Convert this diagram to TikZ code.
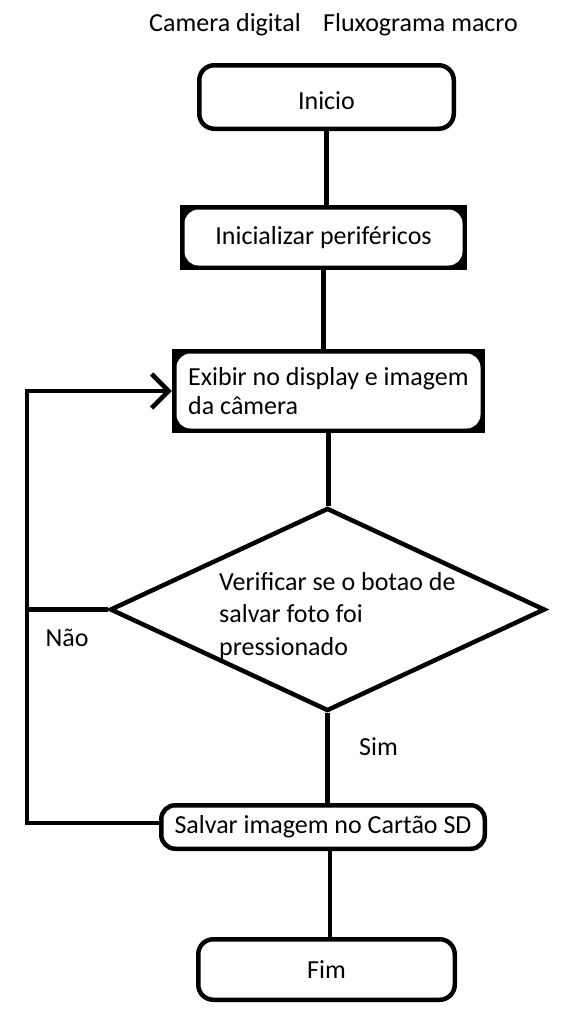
\documentclass[tikz,border=0pt]{standalone}
\usepackage{fontspec}
\setmainfont{Carlito}
\usetikzlibrary{shapes.geometric,arrows.meta}
\begin{document}
\begin{tikzpicture}[x=1pt,y=-1pt,
  lw/.style={line width=4.5pt},
  txt/.style={font=\fontsize{26}{32}\selectfont, inner sep=0pt},
  term/.style={draw, lw, rounded corners=15pt, txt},
  proc/.style={fill=black, txt,
    path picture={\fill[white, rounded corners=14pt]
      ([shift={(4.5pt,4.5pt)}]path picture bounding box.south west) rectangle
      ([shift={(-4.5pt,-4.5pt)}]path picture bounding box.north east);}},
  conn/.style={lw},
  decshape/.style={draw, lw, diamond, inner sep=0pt},
]
\useasboundingbox (0,0) rectangle (584,1020);

\node[txt] (t1) at (225,25) {Camera digital};
\node[txt] (t2) at (420.5,25) {Fluxograma macro};

\node[term, minimum width=254.5pt, minimum height=63.5pt, text height=25pt] (inicio) at (326.5,97) {Inicio};
\node[proc, minimum width=287pt, minimum height=65pt] (inic) at (323.5,237.5) {Inicializar periféricos};
\node[proc, minimum width=313pt, minimum height=84pt, align=left,
      font=\fontsize{26}{29}\selectfont] (exib) at (328.5,391)
      {Exibir no display e imagem\\da câmera};
\node[decshape, minimum width=435pt, minimum height=203pt] (dec) at (327.5,609.5) {};
\node[txt, anchor=west, align=left, font=\fontsize{26}{32.5}\selectfont] (dectext) at (219,616)
      {Verificar se o botao de\\salvar foto foi\\pressionado};
\node[term, rounded corners=14pt, minimum width=323.5pt, minimum height=43.5pt] (salv) at (323,827) {Salvar imagem no Cartão SD};
\node[term, minimum width=256.5pt, minimum height=60.5pt] (fim) at (326.5,969.5) {Fim};

\node[txt] (nao) at (67,638) {Não};
\node[txt] (sim) at (378.5,747) {Sim};

\coordinate (lb) at (27,823);
\coordinate (lt) at (27,391);

\draw[conn] (inicio.south) -- (inicio.south |- inic.north);
\draw[conn] (inic.south) -- (inic.south |- exib.north);
\draw[conn] (exib.south) -- (exib.south |- dec.north);
\draw[conn] (dec.south) -- (dec.south |- salv.north);
\draw[conn] ([xshift=7pt]salv.south) -- ([xshift=7pt]salv.south |- fim.north);
\draw[conn, line cap=rect, -{Straight Barb[length=17pt,width=34pt]}]
  ([yshift=4pt]salv.west) -- (lb) -- (lt) -- (exib.west);
\draw[conn] (dec.west) -- (dec.west -| lt);
\end{tikzpicture}
\end{document}
